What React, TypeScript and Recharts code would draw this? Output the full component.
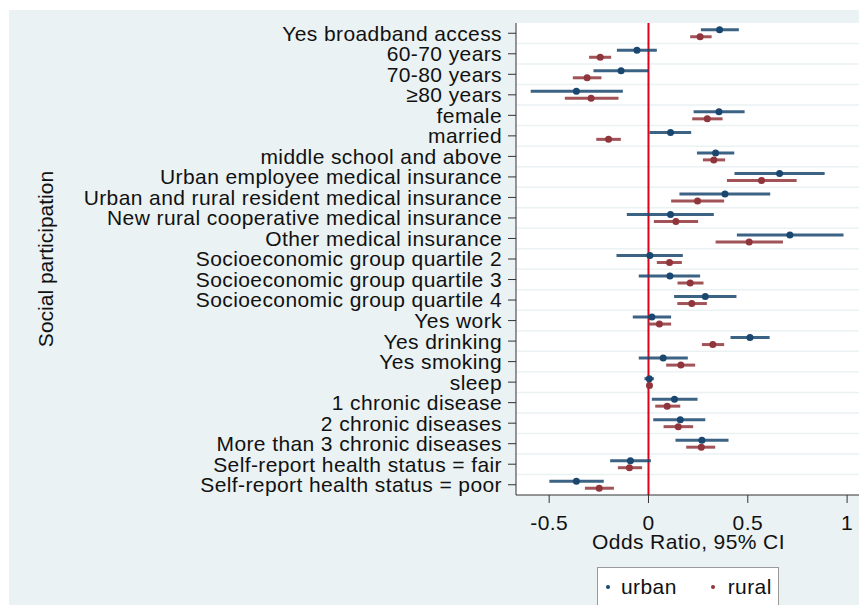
import React from 'react';
import {
  ComposedChart,
  Scatter,
  ErrorBar,
  XAxis,
  YAxis,
  CartesianGrid,
  ReferenceLine,
  Legend,
} from 'recharts';

const categories = [
  'Yes broadband access',
  '60-70 years',
  '70-80 years',
  '≥80 years',
  'female',
  'married',
  'middle school and above',
  'Urban employee medical insurance',
  'Urban and rural resident medical insurance',
  'New rural cooperative medical insurance',
  'Other medical insurance',
  'Socioeconomic group quartile 2',
  'Socioeconomic group quartile 3',
  'Socioeconomic group quartile 4',
  'Yes work',
  'Yes drinking',
  'Yes smoking',
  'sleep',
  '1 chronic disease',
  '2 chronic diseases',
  'More than 3 chronic diseases',
  'Self-report health status = fair',
  'Self-report health status = poor',
];

const urbanEst = [0.358, -0.058, -0.138, -0.363, 0.355, 0.111, 0.338, 0.66, 0.385, 0.111, 0.712, 0.007, 0.108, 0.286, 0.017, 0.511, 0.074, 0.004, 0.131, 0.16, 0.269, -0.091, -0.363];
const urbanLo = [0.264, -0.159, -0.277, -0.593, 0.227, 0.005, 0.244, 0.433, 0.156, -0.109, 0.445, -0.161, -0.049, 0.129, -0.079, 0.413, -0.049, -0.02, 0.017, 0.024, 0.136, -0.193, -0.499];
const urbanHi = [0.455, 0.042, 0.0, -0.129, 0.484, 0.215, 0.432, 0.887, 0.613, 0.329, 0.982, 0.173, 0.26, 0.443, 0.114, 0.61, 0.198, 0.027, 0.247, 0.286, 0.403, 0.012, -0.225];

const ruralEst = [0.26, -0.243, -0.309, -0.289, 0.296, -0.201, 0.329, 0.569, 0.247, 0.138, 0.507, 0.106, 0.21, 0.218, 0.055, 0.324, 0.163, 0.005, 0.094, 0.15, 0.266, -0.096, -0.248];
const ruralLo = [0.21, -0.299, -0.381, -0.421, 0.22, -0.263, 0.274, 0.395, 0.114, 0.027, 0.338, 0.042, 0.146, 0.145, -0.002, 0.269, 0.089, -0.003, 0.034, 0.076, 0.19, -0.154, -0.32];
const ruralHi = [0.318, -0.188, -0.237, -0.151, 0.373, -0.139, 0.386, 0.746, 0.381, 0.25, 0.677, 0.168, 0.277, 0.294, 0.114, 0.381, 0.235, 0.013, 0.16, 0.225, 0.336, -0.032, -0.174];

const xTicks = [-0.5, 0, 0.5, 1];
const xTickLabels = ['-0.5', '0', '0.5', '1'];

const URBAN = '#1a476f';
const RURAL = '#90353b';
const BG = '#eaf2f3';
const SPACING = 0.4;

const rowIdx = categories.map((_, i) => i);
const gridRows = categories.slice(1).map((_, i) => i + 0.5);

const build = (est: number[], lo: number[], hi: number[], shift: number) =>
  est.map((v, i) => ({
    x: v,
    y: i + shift,
    err: [v - lo[i], hi[i] - v],
  }));

const urbanData = build(urbanEst, urbanLo, urbanHi, -0.17);
const ruralData = build(ruralEst, ruralLo, ruralHi, 0.17);

const dot = (color: string) => (p: any) => (
  <circle cx={p.cx} cy={p.cy} r={3.5} fill={color} />
);

const LegendBox = () => (
  <div
    style={{
      width: 180,
      height: 38,
      background: '#fff',
      border: '1px solid #9a9a9a',
      display: 'flex',
      alignItems: 'center',
      fontSize: 21,
      letterSpacing: SPACING,
      color: '#111',
    }}
  >
    <span style={{ display: 'inline-block', width: 4, height: 4, borderRadius: 2, background: URBAN, marginLeft: 8, marginRight: 11 }} />
    <span>urban</span>
    <span style={{ display: 'inline-block', width: 4, height: 4, borderRadius: 2, background: RURAL, marginLeft: 34, marginRight: 13 }} />
    <span>rural</span>
  </div>
);

export default function App() {
  return (
    <div
      style={{
        position: 'relative',
        width: 867,
        height: 613,
        margin: -8,
        background: '#fff',
        fontFamily: '"Liberation Sans", Arial, sans-serif',
      }}
    >
      <div style={{ position: 'absolute', left: 9, top: 10, right: 0, bottom: 1, background: BG }} />
      <div style={{ position: 'absolute', left: 0, top: 0 }}>
        <ComposedChart
          width={867}
          height={613}
          margin={{ top: 23, right: 6, bottom: 58, left: 0 }}
        >
          <CartesianGrid horizontal={false} vertical={false} fill="#fff" fillOpacity={1} />
          <XAxis
            type="number"
            dataKey="x"
            domain={[-0.667, 1.07]}
            allowDataOverflow
            ticks={xTicks}
            tickFormatter={(v: number) => xTickLabels[xTicks.indexOf(v)] ?? String(v)}
            height={60}
            tickSize={8}
            tickMargin={12}
            stroke="#333"
            tick={{ fill: '#111', fontSize: 21, letterSpacing: SPACING }}
            label={{ value: 'Odds Ratio, 95% CI', position: 'insideBottom', offset: 6, fill: '#111', fontSize: 21, letterSpacing: SPACING }}
          />
          <YAxis
            type="number"
            dataKey="y"
            domain={[-0.5, 22.5]}
            reversed
            ticks={rowIdx}
            interval={0}
            tickFormatter={(v: number) => categories[v]}
            width={516}
            tickSize={8}
            tickMargin={6}
            stroke="#333"
            tick={{ fill: '#111', fontSize: 21, letterSpacing: SPACING }}
            label={{
              content: () => (
                <text
                  x={45}
                  y={259}
                  transform="rotate(-90 45 259)"
                  textAnchor="middle"
                  dominantBaseline="central"
                  fontSize={21}
                  fill="#111"
                >
                  Social participation
                </text>
              ),
            }}
          />
          {gridRows.map((g) => (
            <ReferenceLine key={g} y={g} stroke={BG} strokeWidth={1.5} />
          ))}
          <ReferenceLine x={0} stroke="#e0001b" strokeWidth={2} />
          <Legend
            verticalAlign="middle"
            align="center"
            content={<LegendBox />}
            wrapperStyle={{ position: 'absolute', left: 597, top: 567, width: 182, height: 40 }}
          />
          <Scatter name="urban" data={urbanData} fill={URBAN} shape={dot(URBAN)} isAnimationActive={false}>
            <ErrorBar dataKey="err" direction="x" width={0} stroke={URBAN} strokeWidth={3} strokeOpacity={0.85} isAnimationActive={false} />
          </Scatter>
          <Scatter name="rural" data={ruralData} fill={RURAL} shape={dot(RURAL)} isAnimationActive={false}>
            <ErrorBar dataKey="err" direction="x" width={0} stroke={RURAL} strokeWidth={3} strokeOpacity={0.85} isAnimationActive={false} />
          </Scatter>
        </ComposedChart>
      </div>
    </div>
  );
}
